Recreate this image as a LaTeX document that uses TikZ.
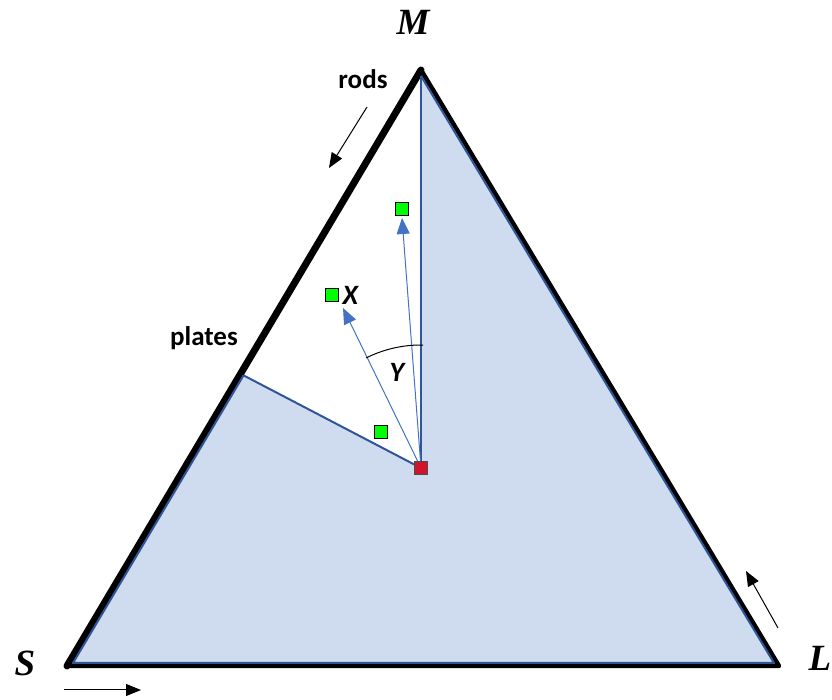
\documentclass[tikz,border=0pt]{standalone}
\usepackage{fontspec}
\setmainfont{Liberation Serif}
\newfontfamily\calib{Carlito}
\usetikzlibrary{arrows.meta,calc}
\definecolor{fillblue}{HTML}{CFDBEE}
\definecolor{edgeblue}{HTML}{2F5597}
\definecolor{arrblue}{HTML}{4472C4}
\definecolor{sqgreen}{HTML}{00FF00}
\definecolor{sqred}{HTML}{D0142C}
\tikzset{
  vlabel/.style={font=\fontsize{37}{40}\selectfont\bfseries\itshape},
  slabel/.style={font=\calib\fontsize{27}{30}\selectfont\bfseries},
  ilabel/.style={font=\calib\fontsize{28}{30}\selectfont\bfseries\itshape},
  sq/.style={draw=black,line width=0.8pt,minimum size=13pt,inner sep=0pt,fill=sqgreen},
  redsq/.style={draw=black!70,line width=0.8pt,minimum size=13pt,inner sep=0pt,fill=sqred},
  barrow/.style={arrblue,line width=1pt,-{Triangle[length=16pt,width=13pt]}},
  karrow/.style={black,line width=1pt,-{Triangle[length=15pt,width=12pt]}}
}
\begin{document}
\begin{tikzpicture}[x=1pt,y=1pt]
\useasboundingbox (0,0) rectangle (832,700);
% vertices
\coordinate (M) at (421,630);
\coordinate (S) at (67,34);
\coordinate (L) at (779,34);
\coordinate (P) at (421,232);
\coordinate (Q) at ($(S)!0.49!(M)$);
% inner (blue) vertices
\coordinate (Mi) at (421,624);
\coordinate (Si) at (73,37);
\coordinate (Li) at (774,37);
\coordinate (Qi) at ($(Si)!0.49!(Mi)$);
% outline
\draw[black,line width=4.5pt,line join=round] (M) -- (L) -- (S);
\draw[black,line width=7pt,line cap=round,line join=round] (S) -- (M);
% shaded region
\fill[fillblue] (Mi) -- (P) -- (Qi) -- (Si) -- (Li) -- cycle;
\draw[edgeblue,line width=2pt,line join=round] (Qi) -- (Si) -- (Li) -- (Mi);
\draw[edgeblue,line width=2.5pt] (Mi) -- (P);
\draw[edgeblue,line width=2pt] (P) -- (Qi);
% squares
\node[sq] (g1) at (402,491) {};
\node[sq] (g2) at (332,405) {};
\node[sq] (g3) at (381,268) {};
% arrows
\coordinate (t1) at (402,482);
\coordinate (t2) at (343,392);
\draw[barrow] (P) -- (t1);
\draw[barrow] (P) -- (t2);
\node[redsq] (r) at (P) {};
% angle arc
\draw[black,line width=1pt] ($(P)+(89:123)$) arc (89:116.5:123);
% labels
\node[ilabel,anchor=west] (X) at (339,405) {X};
\node[ilabel] (Y) at (397,328) {Y};
\node[vlabel] (lM) at (413,678) {M};
\node[vlabel] (lS) at (25,37) {S};
\node[vlabel] (lL) at (820,42) {L};
\node[slabel] (rods) at (363,621) {rods};
\node[slabel] (plates) at (204,362) {plates};
% direction arrows
\coordinate (a1s) at (367,593); \coordinate (a1e) at (329,532);
\coordinate (a2s) at (64,10); \coordinate (a2e) at (141,10);
\coordinate (a3s) at (778,72); \coordinate (a3e) at (746,129);
\draw[karrow] (a1s) -- (a1e);
\draw[karrow] (a2s) -- (a2e);
\draw[karrow] (a3s) -- (a3e);
\end{tikzpicture}
\end{document}
